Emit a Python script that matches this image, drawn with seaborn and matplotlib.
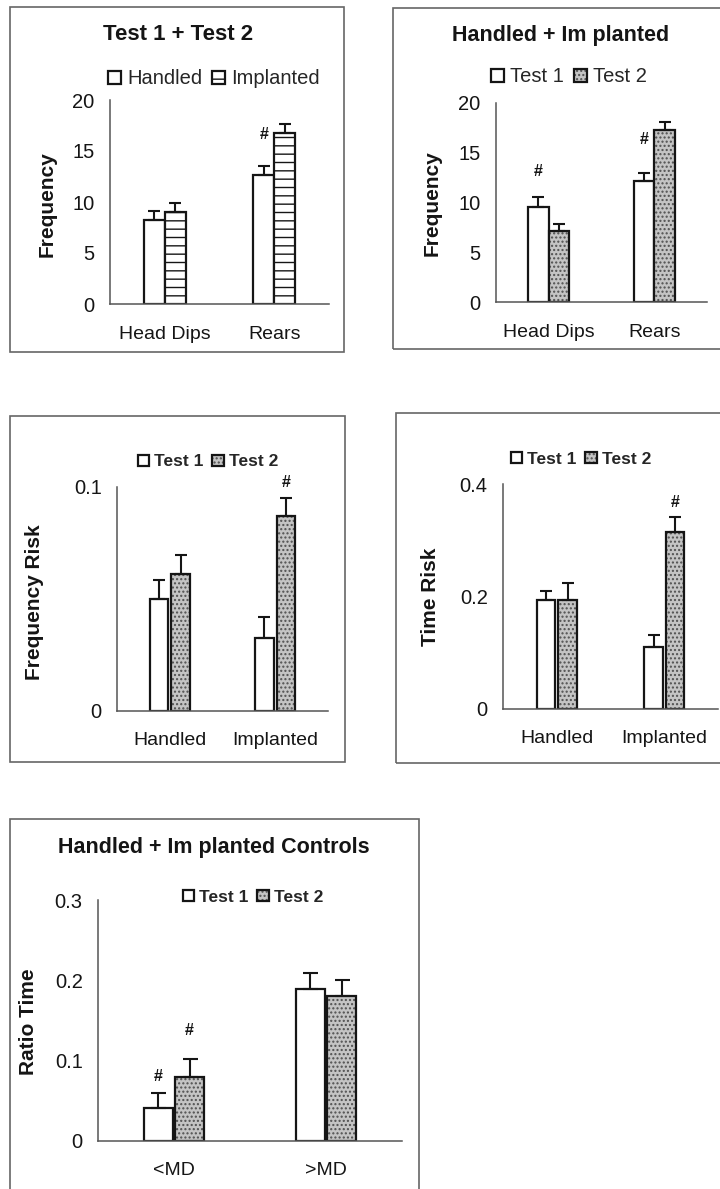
import matplotlib
matplotlib.use("Agg")
import matplotlib.pyplot as plt
import matplotlib.colors as mcolors
from matplotlib.patches import Rectangle
import pandas as pd
import seaborn as sns

# ---------------- data ----------------
p1_categories = ["Head Dips", "Rears"]
p1_series = ["Handled", "Implanted"]
p1_handled = [8.2, 12.6]
p1_handled_err = [0.9, 0.95]
p1_implanted = [9.0, 16.8]
p1_implanted_err = [0.9, 0.85]
p1_marks = [("Rears", "Handled", 16.6)]

p2_categories = ["Head Dips", "Rears"]
p2_series = ["Test 1", "Test 2"]
p2_test1 = [9.55, 12.2]
p2_test1_err = [1.0, 0.8]
p2_test2 = [7.1, 17.3]
p2_test2_err = [0.7, 0.8]
p2_marks = [("Head Dips", "Test 1", 13.1), ("Rears", "Test 1", 16.3)]

p3_categories = ["Handled", "Implanted"]
p3_series = ["Test 1", "Test 2"]
p3_test1 = [0.050, 0.0326]
p3_test1_err = [0.0086, 0.0094]
p3_test2 = [0.061, 0.087]
p3_test2_err = [0.0085, 0.008]
p3_marks = [("Implanted", "Test 2", 0.1018)]

p4_categories = ["Handled", "Implanted"]
p4_series = ["Test 1", "Test 2"]
p4_test1 = [0.194, 0.110]
p4_test1_err = [0.016, 0.022]
p4_test2 = [0.194, 0.315]
p4_test2_err = [0.030, 0.026]
p4_marks = [("Implanted", "Test 2", 0.368)]

p5_categories = ["<MD", ">MD"]
p5_series = ["Test 1", "Test 2"]
p5_test1 = [0.041, 0.189]
p5_test1_err = [0.019, 0.020]
p5_test2 = [0.080, 0.180]
p5_test2_err = [0.022, 0.020]
p5_marks = [("<MD", "Test 1", 0.0797), ("<MD", "Test 2", 0.138)]

# ---------------- style ----------------
sns.set_style("white")
plt.rcParams["font.family"] = ["Liberation Sans", "DejaVu Sans"]
plt.rcParams["hatch.linewidth"] = 1.0

W, H = 720, 1189
fig = plt.figure(figsize=(W / 100, H / 100), dpi=100)
fig.patch.set_facecolor("white")

INK = "#151515"
AXC = "#555555"


def fx(x):
    return x / W


def fy(y):
    return 1 - y / H


def add_box(x0, y0, x1, y1):
    fig.add_artist(Rectangle((fx(x0), fy(y1)), (x1 - x0) / W, (y1 - y0) / H,
                             transform=fig.transFigure, fill=False,
                             edgecolor="#666666", lw=1.2))


def draw_panel(box, axpx, cats, series, vals, errs, marks, ylim, yticks, yticklabels,
               ylabel, ylabel_px, title, title_px, title_size, legend_px, legend_size,
               legend_weight, width, gap, styles, capsize, xpad):
    add_box(*box)
    l, r, t, b = axpx
    ax = fig.add_axes([fx(l), fy(b), (r - l) / W, (b - t) / H])
    rows = []
    for s, v in zip(series, vals):
        for c, val in zip(cats, v):
            rows.append({"cat": c, "series": s, "value": val})
    df = pd.DataFrame(rows)
    sns.barplot(data=df, x="cat", y="value", hue="series", order=cats, hue_order=series,
                palette=[st[0] for st in styles], edgecolor=INK, linewidth=1.6,
                width=width, gap=gap, errorbar=None, ax=ax, legend=False)
    bar_conts = list(ax.containers)
    for cont, st, e in zip(bar_conts, styles, errs):
        face, hatch, hcol = st
        for p, err in zip(cont.patches, e):
            p.set_facecolor(face)
            p.set_edgecolor(INK)
            if hatch:
                p.set_hatch(hatch)
                if hasattr(p, "set_hatchcolor"):
                    p.set_hatchcolor(hcol)
                else:
                    p._hatch_color = mcolors.to_rgba(hcol)
            xc = p.get_x() + p.get_width() / 2
            ax.errorbar(xc, p.get_height(), yerr=[[0], [err]], fmt="none", ecolor=INK,
                        elinewidth=1.5, capsize=capsize, capthick=1.5, zorder=1)
    # significance marks
    for c, s, yv in marks:
        p = bar_conts[series.index(s)].patches[cats.index(c)]
        ax.text(p.get_x() + p.get_width() / 2, yv, "#", ha="center", va="center",
                fontsize=11.5, fontweight="bold", color=INK)
    ax.set_xlim(-0.5, len(cats) - 0.5)
    ax.set_ylim(*ylim)
    ax.set_yticks(yticks)
    ax.set_yticklabels(yticklabels)
    ax.set_xticks(range(len(cats)))
    ax.set_xticklabels(cats)
    ax.set_xticks([i - 0.5 for i in range(len(cats) + 1)], minor=True)
    ax.tick_params(axis="x", which="major", length=0, pad=xpad, labelsize=14, colors=INK)
    ax.tick_params(axis="x", which="minor", length=4, width=1, direction="out", color=AXC)
    ax.tick_params(axis="y", which="major", length=5, width=1, direction="out", color=AXC,
                   pad=6, labelsize=14.5, labelcolor=INK)
    ax.set_xlabel("")
    ax.set_ylabel("")
    for sp in ["top", "right"]:
        ax.spines[sp].set_visible(False)
    for sp in ["left", "bottom"]:
        ax.spines[sp].set_color(AXC)
        ax.spines[sp].set_linewidth(1.1)
    ax.set_facecolor("none")
    fig.text(fx(ylabel_px[0]), fy(ylabel_px[1]), ylabel, rotation=90, ha="center",
             va="center", fontsize=15, fontweight="bold", color=INK)
    if title:
        fig.text(fx(title_px[0]), fy(title_px[1]), title, ha="center", va="center",
                 fontsize=title_size, fontweight="bold", color=INK)
    handles = [cont.patches[0] for cont in bar_conts]
    ax.legend(handles=handles, labels=series, loc="center",
              bbox_to_anchor=(fx(legend_px[0]), fy(legend_px[1])),
              bbox_transform=fig.transFigure, ncol=2, frameon=False,
              prop={"size": legend_size, "weight": legend_weight},
              handlelength=0.65, handleheight=0.65, handletextpad=0.3,
              columnspacing=0.5, borderpad=0, borderaxespad=0)
    return ax


white = ("white", None, INK)
stripes = ("white", "--", INK)
dots = ("#c4c4c4", "....", "#505050")

draw_panel(box=(10, 7, 344, 352), axpx=(110, 329, 100, 304),
           cats=p1_categories, series=p1_series,
           vals=[p1_handled, p1_implanted], errs=[p1_handled_err, p1_implanted_err],
           marks=p1_marks, ylim=(0, 20), yticks=[0, 5, 10, 15, 20],
           yticklabels=["0", "5", "10", "15", "20"],
           ylabel="Frequency", ylabel_px=(47, 204),
           title="Test 1 + Test 2", title_px=(178, 35), title_size=16,
           legend_px=(214, 79), legend_size=14.5, legend_weight="normal",
           width=0.38, gap=0.0, styles=[white, stripes], capsize=4.5, xpad=16)

draw_panel(box=(393, 8, 730, 349), axpx=(496, 707, 103, 302),
           cats=p2_categories, series=p2_series,
           vals=[p2_test1, p2_test2], errs=[p2_test1_err, p2_test2_err],
           marks=p2_marks, ylim=(0, 20), yticks=[0, 5, 10, 15, 20],
           yticklabels=["0", "5", "10", "15", "20"],
           ylabel="Frequency", ylabel_px=(432, 203),
           title="Handled + Im planted", title_px=(561, 35), title_size=15.5,
           legend_px=(569, 77), legend_size=14.5, legend_weight="normal",
           width=0.39, gap=0.0, styles=[white, dots], capsize=4.5, xpad=16)

draw_panel(box=(10, 416, 345, 762), axpx=(117, 328, 487, 711),
           cats=p3_categories, series=p3_series,
           vals=[p3_test1, p3_test2], errs=[p3_test1_err, p3_test2_err],
           marks=p3_marks, ylim=(0, 0.1), yticks=[0, 0.1],
           yticklabels=["0", "0.1"],
           ylabel="Frequency Risk", ylabel_px=(35, 602),
           title=None, title_px=None, title_size=15.5,
           legend_px=(208, 462), legend_size=12.5, legend_weight="bold",
           width=0.41, gap=0.14, styles=[white, dots], capsize=4.5, xpad=15)

draw_panel(box=(396, 413, 730, 763), axpx=(503, 718, 484, 709),
           cats=p4_categories, series=p4_series,
           vals=[p4_test1, p4_test2], errs=[p4_test1_err, p4_test2_err],
           marks=p4_marks, ylim=(0, 0.4), yticks=[0, 0.2, 0.4],
           yticklabels=["0", "0.2", "0.4"],
           ylabel="Time Risk", ylabel_px=(431, 597),
           title=None, title_px=None, title_size=15.5,
           legend_px=(581, 459), legend_size=12.5, legend_weight="bold",
           width=0.40, gap=0.12, styles=[white, dots], capsize=4.5, xpad=15)

draw_panel(box=(10, 819, 419, 1200), axpx=(98, 402, 900, 1141),
           cats=p5_categories, series=p5_series,
           vals=[p5_test1, p5_test2], errs=[p5_test1_err, p5_test2_err],
           marks=p5_marks, ylim=(0, 0.3), yticks=[0, 0.1, 0.2, 0.3],
           yticklabels=["0", "0.1", "0.2", "0.3"],
           ylabel="Ratio Time", ylabel_px=(28, 1022),
           title="Handled + Im planted Controls", title_px=(214, 848), title_size=15.5,
           legend_px=(253, 897), legend_size=12.5, legend_weight="bold",
           width=0.41, gap=0.08, styles=[white, dots], capsize=5.4, xpad=15)

fig.savefig("out.png", dpi=100, facecolor="white")
